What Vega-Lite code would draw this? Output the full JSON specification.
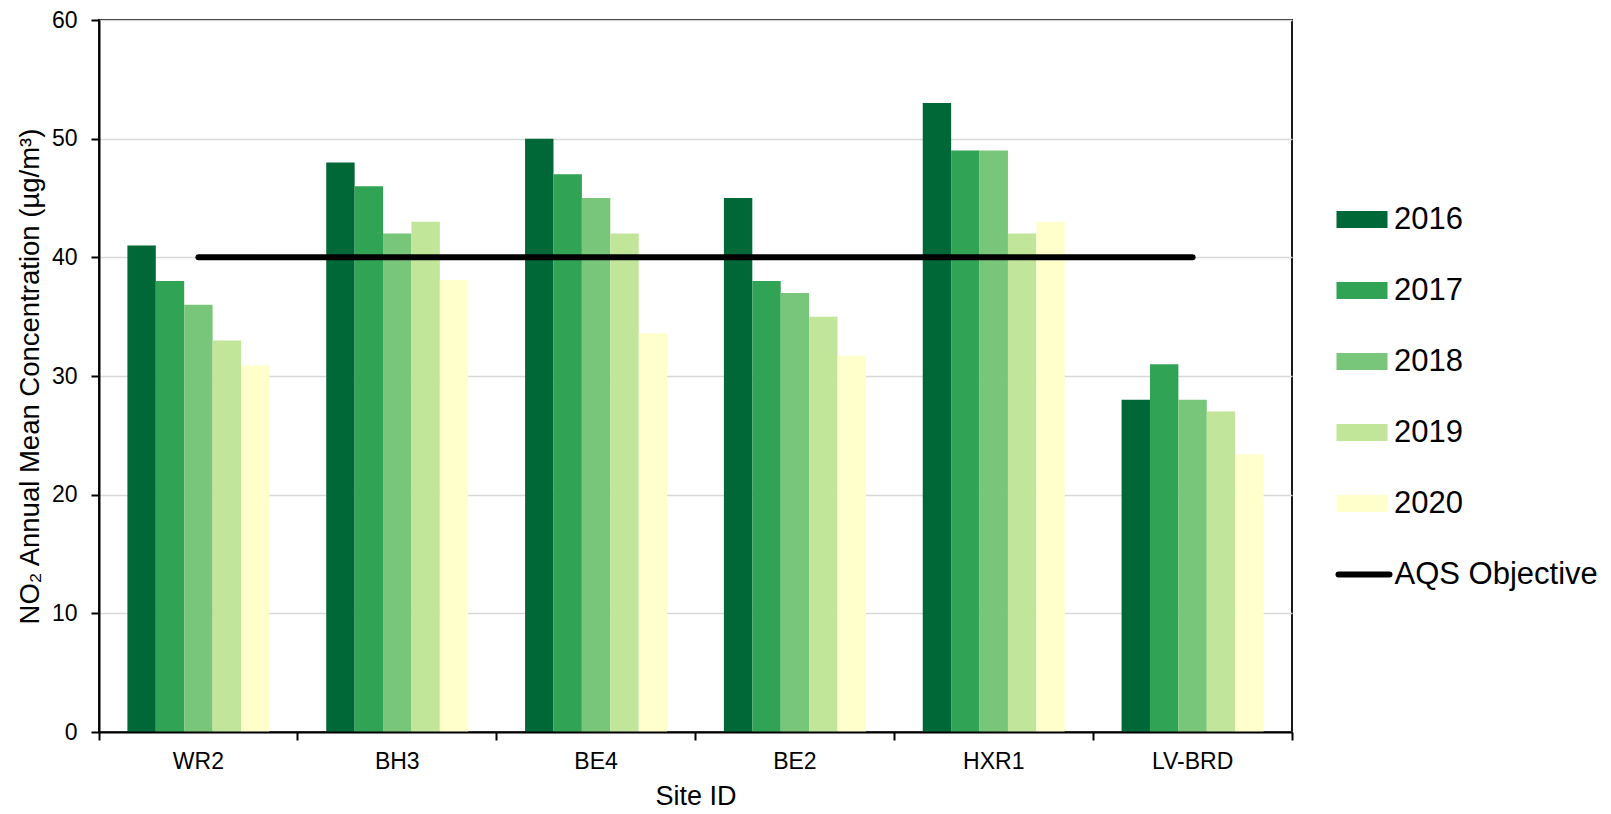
{
  "$schema": "https://vega.github.io/schema/vega-lite/v6.json",
  "autosize": {"type": "none"},
  "padding": {"left": 99, "top": 20, "right": 319, "bottom": 82},
  "width": 1193,
  "height": 712,
  "background": "white",
  "config": {
    "font": "Liberation Sans",
    "view": {"stroke": "#1a1a1a", "strokeWidth": 2},
    "axis": {
      "domainColor": "black",
      "domainWidth": 2,
      "tickColor": "black",
      "tickWidth": 2,
      "tickSize": 8,
      "labelFont": "Liberation Sans",
      "labelFontSize": 23,
      "labelColor": "black",
      "titleFont": "Liberation Sans",
      "titleFontSize": 27,
      "titleFontWeight": "normal",
      "titleColor": "black"
    },
    "legend": {
      "labelFont": "Liberation Sans",
      "labelFontSize": 31,
      "labelColor": "black",
      "labelLimit": 400,
      "padding": 0
    }
  },
  "datasets": {
    "bars": [
      {"site": "WR2", "year": "2016", "value": 41},
      {"site": "WR2", "year": "2017", "value": 38},
      {"site": "WR2", "year": "2018", "value": 36},
      {"site": "WR2", "year": "2019", "value": 33},
      {"site": "WR2", "year": "2020", "value": 30.9},
      {"site": "BH3", "year": "2016", "value": 48},
      {"site": "BH3", "year": "2017", "value": 46},
      {"site": "BH3", "year": "2018", "value": 42},
      {"site": "BH3", "year": "2019", "value": 43},
      {"site": "BH3", "year": "2020", "value": 38.1},
      {"site": "BE4", "year": "2016", "value": 50},
      {"site": "BE4", "year": "2017", "value": 47},
      {"site": "BE4", "year": "2018", "value": 45},
      {"site": "BE4", "year": "2019", "value": 42},
      {"site": "BE4", "year": "2020", "value": 33.6},
      {"site": "BE2", "year": "2016", "value": 45},
      {"site": "BE2", "year": "2017", "value": 38},
      {"site": "BE2", "year": "2018", "value": 37},
      {"site": "BE2", "year": "2019", "value": 35},
      {"site": "BE2", "year": "2020", "value": 31.7},
      {"site": "HXR1", "year": "2016", "value": 53},
      {"site": "HXR1", "year": "2017", "value": 49},
      {"site": "HXR1", "year": "2018", "value": 49},
      {"site": "HXR1", "year": "2019", "value": 42},
      {"site": "HXR1", "year": "2020", "value": 43},
      {"site": "LV-BRD", "year": "2016", "value": 28},
      {"site": "LV-BRD", "year": "2017", "value": 31},
      {"site": "LV-BRD", "year": "2018", "value": 28},
      {"site": "LV-BRD", "year": "2019", "value": 27},
      {"site": "LV-BRD", "year": "2020", "value": 23.4}
    ],
    "objective": [
      {"site": "WR2", "value": 40, "series": "AQS Objective"},
      {"site": "BH3", "value": 40, "series": "AQS Objective"},
      {"site": "BE4", "value": 40, "series": "AQS Objective"},
      {"site": "BE2", "value": 40, "series": "AQS Objective"},
      {"site": "HXR1", "value": 40, "series": "AQS Objective"},
      {"site": "LV-BRD", "value": 40, "series": "AQS Objective"}
    ]
  },
  "layer": [
    {
      "data": {"name": "bars"},
      "mark": {"type": "bar"},
      "encoding": {
        "x": {
          "field": "site",
          "type": "nominal",
          "sort": ["WR2", "BH3", "BE4", "BE2", "HXR1", "LV-BRD"],
          "scale": {"paddingInner": 0, "paddingOuter": 0},
          "title": "Site ID",
          "axis": {
            "labelAngle": 0,
            "bandPosition": 1,
            "tickExtra": true,
            "labelPadding": 10,
            "titlePadding": 10,
            "zindex": 1,
            "grid": false
          }
        },
        "xOffset": {
          "field": "year",
          "type": "nominal",
          "scale": {"paddingInner": 0, "paddingOuter": 1.1025}
        },
        "y": {
          "field": "value",
          "type": "quantitative",
          "scale": {"domain": [0, 60], "nice": false},
          "title": "NO₂ Annual Mean Concentration (µg/m³)",
          "axis": {
            "values": [0, 10, 20, 30, 40, 50, 60],
            "labelPadding": 14,
            "titlePadding": 7,
            "titleFontSize": 27.5,
            "grid": true,
            "gridColor": "#d9d9d9",
            "gridWidth": 1.5
          }
        },
        "color": {
          "field": "year",
          "type": "nominal",
          "scale": {
            "domain": ["2016", "2017", "2018", "2019", "2020"],
            "range": ["#006837", "#31a354", "#78c679", "#c2e699", "#ffffcc"]
          },
          "legend": {
            "title": null,
            "orient": "none",
            "legendX": 1247.5,
            "legendY": 184,
            "symbolType": "M-3,-1H3V1H-3Z",
            "symbolSize": 289,
            "symbolStrokeWidth": 0,
            "labelOffset": 16.5,
            "rowPadding": 39
          }
        }
      }
    },
    {
      "data": {"name": "objective"},
      "mark": {"type": "line", "strokeWidth": 6, "strokeCap": "round"},
      "encoding": {
        "x": {
          "field": "site",
          "type": "nominal",
          "sort": ["WR2", "BH3", "BE4", "BE2", "HXR1", "LV-BRD"]
        },
        "y": {"field": "value", "type": "quantitative"},
        "stroke": {
          "field": "series",
          "type": "nominal",
          "scale": {"range": ["black"]},
          "legend": {
            "title": null,
            "orient": "none",
            "legendX": 1236.5,
            "legendY": 526,
            "symbolType": "stroke",
            "symbolSize": 2601,
            "symbolStrokeWidth": 6,
            "labelOffset": 2,
            "encode": {"symbols": {"update": {"strokeCap": {"value": "round"}}}}
          }
        }
      }
    }
  ]
}
